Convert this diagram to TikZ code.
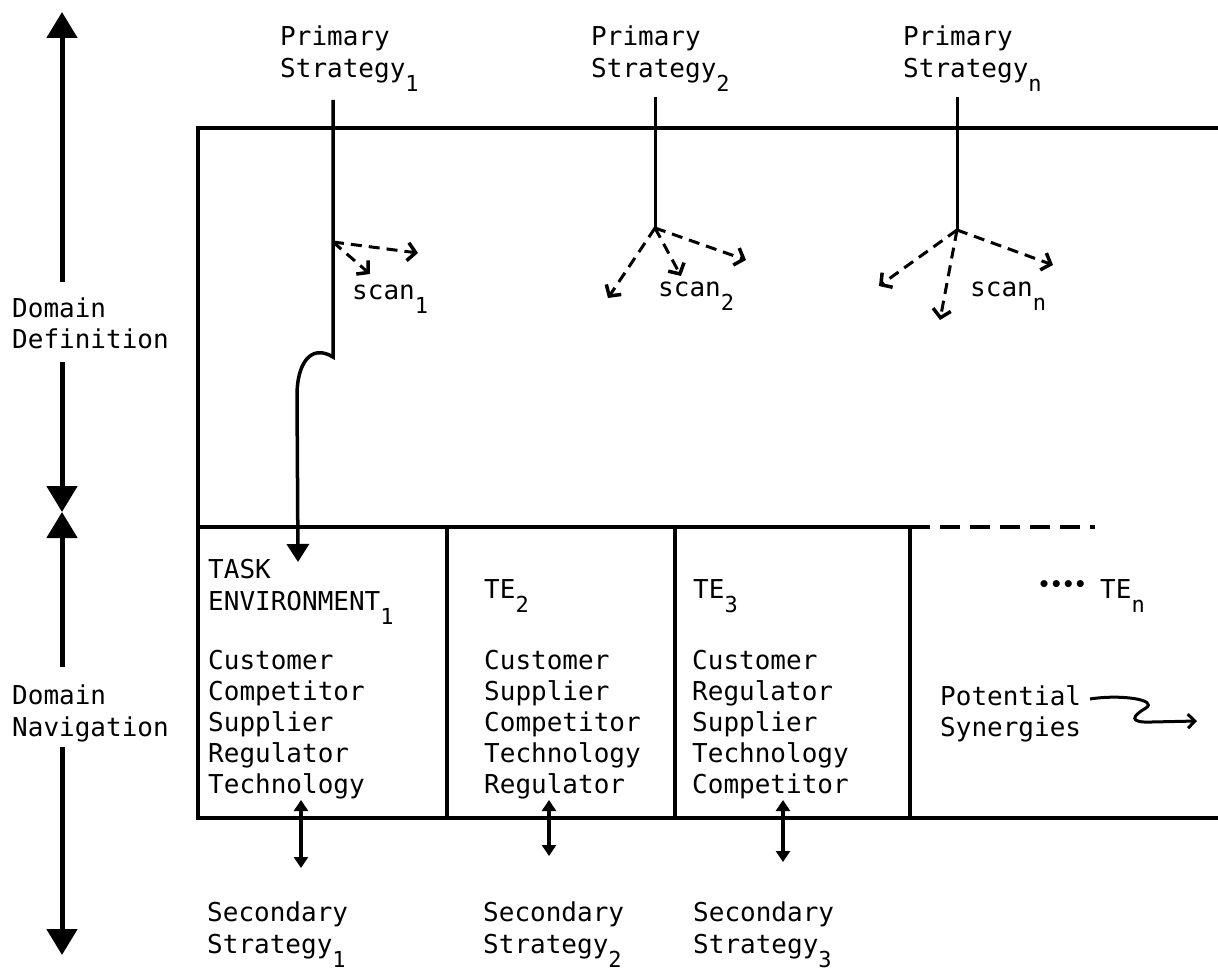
\documentclass[tikz,border=0pt]{standalone}
\usepackage{fontspec}
\setmainfont{DejaVu Sans Mono}
\usetikzlibrary{arrows.meta}
\newcommand\sbs[1]{\raisebox{-14pt}{\fontsize{22}{22}\selectfont #1}}
\begin{document}
\begin{tikzpicture}[x=1pt,y=-1pt,
  txt/.style={anchor=base west, inner sep=0pt, align=left, font=\fontsize{26}{32}\selectfont},
  lst/.style={anchor=base west, inner sep=0pt, align=left, font=\fontsize{26}{31}\selectfont},
  boxline/.style={line width=4.5pt, line cap=rect},
  stem/.style={line width=3pt},
  bigarrow/.style={line width=5pt, -{Triangle[width=30pt,length=26pt]}},
  conn/.style={line width=3.5pt, -{Triangle[width=22pt,length=18pt]}},
  scanarrow/.style={line width=3pt, dash pattern=on 11pt off 7pt, -{Straight Barb[length=8pt,width=18pt,line width=3.5pt]}},
  dbl/.style={line width=3.5pt, {Triangle[width=14pt,length=11pt]}-{Triangle[width=14pt,length=11pt]}},
  wavy/.style={line width=3pt, -{Straight Barb[length=7pt,width=14pt,line width=3pt]}}
]
\useasboundingbox (0,0) rectangle (1218,973);

% left axis
\node[txt] (dd) at (12,349) {Domain\\Definition};
\node[txt] (dn) at (12,736) {Domain\\Navigation};
\coordinate (axtop) at (62,12);
\coordinate (axa) at (62,282);
\coordinate (axb) at (62,362);
\coordinate (axmid) at (62,512);
\coordinate (axc) at (62,667);
\coordinate (axd) at (62,747);
\coordinate (axbot) at (62,955);
\draw[bigarrow] (axa) -- (axtop);
\draw[bigarrow] (axb) -- (axmid);
\draw[bigarrow] (axc) -- (axmid);
\draw[bigarrow] (axd) -- (axbot);

% frame
\coordinate (tr) at (1218,128);
\coordinate (tl) at (198,128);
\coordinate (bl) at (198,818);
\coordinate (br) at (1218,818);
\draw[boxline] (tr) -- (tl) -- (bl) -- (br);
\coordinate (ml) at (198,527);
\coordinate (mr) at (910,527);
\coordinate (md) at (1095,527);
\draw[boxline] (ml) -- (mr);
\draw[line width=4pt, dash pattern=on 20pt off 10pt] (mr) -- (md);
\coordinate (d1t) at (447,527); \coordinate (d1b) at (447,818);
\coordinate (d2t) at (675,527); \coordinate (d2b) at (675,818);
\coordinate (d3t) at (910,527); \coordinate (d3b) at (910,818);
\draw[boxline] (d1t) -- (d1b);
\draw[boxline] (d2t) -- (d2b);
\draw[boxline] (d3t) -- (d3b);

% primary strategies
\node[txt] (p1) at (280,78) {Primary\\Strategy\sbs{1}};
\node[txt] (p2) at (591,78) {Primary\\Strategy\sbs{2}};
\node[txt] (pn) at (903,78) {Primary\\Strategy\sbs{n}};

% strategy 1 connector
\coordinate (s1top) at (333,100);
\coordinate (s1o) at (333,242);
\coordinate (s1k) at (333,357);
\coordinate (te1tip) at (298,562);
\draw[conn] (s1top) -- (s1k) .. controls (310,343) and (297,365) .. (297,395) -- (te1tip);
\coordinate (s1a) at (370,274);
\coordinate (s1b) at (418,253);
\draw[scanarrow] (s1o) -- (s1a);
\draw[scanarrow] (s1o) -- (s1b);
\node[txt] (sc1) at (352,300) {scan\sbs{1}};

% strategy 2
\coordinate (s2top) at (655,97);
\coordinate (s2o) at (655,228);
\draw[stem] (s2top) -- (s2o);
\coordinate (s2a) at (608,298);
\coordinate (s2b) at (681,276);
\coordinate (s2c) at (746,260);
\draw[scanarrow] (s2o) -- (s2a);
\draw[scanarrow] (s2o) -- (s2b);
\draw[scanarrow] (s2o) -- (s2c);
\node[txt] (sc2) at (658,297) {scan\sbs{2}};

% strategy n
\coordinate (sntop) at (957,97);
\coordinate (sno) at (957,230);
\draw[stem] (sntop) -- (sno);
\coordinate (sna) at (879,286);
\coordinate (snb) at (940,320);
\coordinate (snc) at (1053,265);
\draw[scanarrow] (sno) -- (sna);
\draw[scanarrow] (sno) -- (snb);
\draw[scanarrow] (sno) -- (snc);
\node[txt] (scn) at (970,297) {scan\sbs{n}};

% task environments
\node[txt] (te1) at (208,610) {TASK\\ENVIRONMENT\sbs{1}};
\node[txt] (te2) at (484,598) {TE\sbs{2}};
\node[txt] (te3) at (693,598) {TE\sbs{3}};
\node[txt] (ten) at (1100,598) {TE\sbs{n}};
\node[txt] (dots) at (1038,598) {\raisebox{7pt}{\fontsize{20}{20}\selectfont\bfseries ••••}};

\node[lst] (l1) at (208,793) {Customer\\Competitor\\Supplier\\Regulator\\Technology};
\node[lst] (l2) at (484,793) {Customer\\Supplier\\Competitor\\Technology\\Regulator};
\node[lst] (l3) at (692,793) {Customer\\Regulator\\Supplier\\Technology\\Competitor};

\node[lst] (pot) at (940,736) {Potential\\Synergies};
\coordinate (w0) at (1090,699);
\coordinate (w1) at (1197,721);
\draw[wavy] (w0) .. controls (1122,694) and (1158,700) .. (1146,708) .. controls (1132,716) and (1128,723) .. (1152,722) -- (w1);

% secondary strategies
\coordinate (a1t) at (301,800); \coordinate (a1b) at (301,868);
\coordinate (a2t) at (549,800); \coordinate (a2b) at (549,856);
\coordinate (a3t) at (783,800); \coordinate (a3b) at (783,862);
\draw[dbl] (a1t) -- (a1b);
\draw[dbl] (a2t) -- (a2b);
\draw[dbl] (a3t) -- (a3b);
\node[txt] (ss1) at (207,953) {Secondary\\Strategy\sbs{1}};
\node[txt] (ss2) at (483,953) {Secondary\\Strategy\sbs{2}};
\node[txt] (ss3) at (693,953) {Secondary\\Strategy\sbs{3}};
\end{tikzpicture}
\end{document}
